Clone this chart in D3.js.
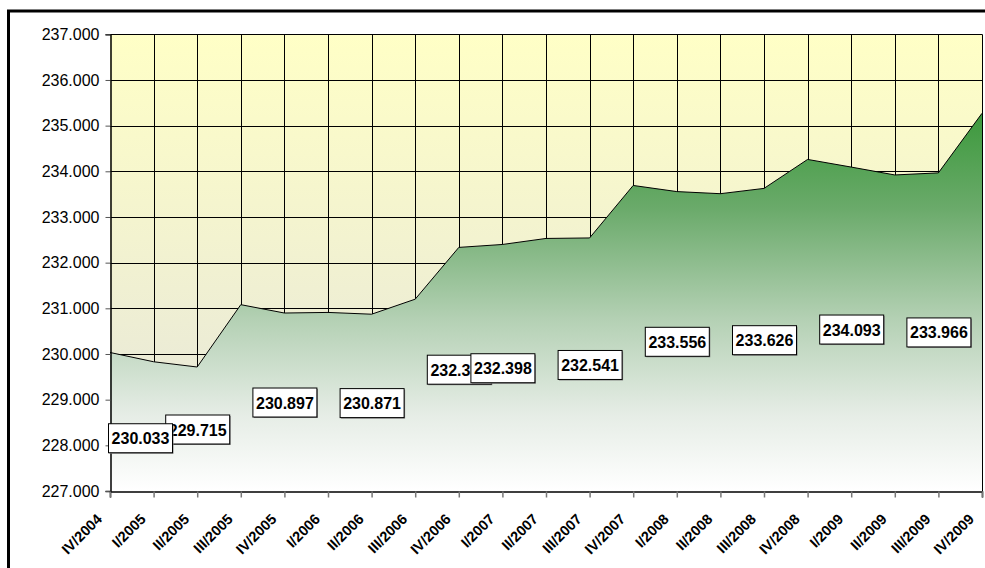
<!DOCTYPE html>
<html>
<head>
<meta charset="utf-8">
<script src="https://cdn.jsdelivr.net/npm/d3@7"></script>
<style>
  body { margin: 0; background: #fff; }
  svg { display: block; }
  svg text { font-family: Arial, "Liberation Sans", sans-serif; }
</style>
</head>
<body>
<div id="viz"></div>
<script>
// quarters and values
var quarters = ['IV/2004', 'I/2005', 'II/2005', 'III/2005', 'IV/2005', 'I/2006', 'II/2006',
  'III/2006', 'IV/2006', 'I/2007', 'II/2007', 'III/2007', 'IV/2007', 'I/2008', 'II/2008',
  'III/2008', 'IV/2008', 'I/2009', 'II/2009', 'III/2009', 'IV/2009'];
var values = [230.033, 229.83, 229.715, 231.08, 230.897, 230.91, 230.871,
  231.2, 232.334, 232.398, 232.53, 232.541, 233.69, 233.556, 233.51,
  233.626, 234.26, 234.093, 233.92, 233.966, 235.27];
// which points carry a value box
var labelled = [0, 2, 4, 6, 8, 9, 11, 13, 15, 17, 19];
var yTicks = [227, 228, 229, 230, 231, 232, 233, 234, 235, 236, 237];

(function () {
  'use strict';

  var width = 985, height = 568;
  var left = 110, right = 982, top = 34.3, bottom = 491;

  var svg = d3.select('#viz')
  .append('svg')
  .attr('width', width)
  .attr('height', height);

  var x = d3.scalePoint().domain(quarters).range([left, right]);
  var y = d3.scaleLinear().domain([227, 237]).range([bottom, top]);
  var fmt = function (v) { return d3.format('.3f')(v); };

  var defs = svg.append('defs');
  var bg = defs.append('linearGradient')
  .attr('id', 'bg')
  .attr('x1', 0).attr('y1', 0).attr('x2', 0).attr('y2', 1);
  bg.append('stop').attr('offset', 0).attr('stop-color', '#ffffc6');
  bg.append('stop').attr('offset', 1).attr('stop-color', '#e4e4dc');

  var green = defs.append('linearGradient')
  .attr('id', 'green')
  .attr('gradientUnits', 'userSpaceOnUse')
  .attr('x1', 0).attr('x2', 0)
  .attr('y1', y(d3.max(values))).attr('y2', y(227));
  [[0, '#3c993c'], [0.25, '#6aaa6a'], [0.55, '#b5d1b5'], [0.8, '#e6ede6'], [1, '#ffffff']]
  .forEach(function (s) {
    green.append('stop').attr('offset', s[0]).attr('stop-color', s[1]);
  });

  // outer chart frame (only left and top fall inside the picture)
  svg.append('rect')
  .attr('x', 8.5).attr('y', 11)
  .attr('width', 1100).attr('height', 700)
  .attr('fill', 'none')
  .attr('stroke', '#000')
  .attr('stroke-width', 3);

  // plot background
  svg.append('rect')
  .attr('x', left).attr('y', top)
  .attr('width', right - left).attr('height', bottom - top)
  .attr('fill', 'url(#bg)');

  // gridlines
  svg.append('g')
  .selectAll('line')
  .data(yTicks.slice(1))
  .enter().append('line')
  .attr('x1', left).attr('x2', right)
  .attr('y1', function (d) { return Math.round(y(d)) + 0.5; })
  .attr('y2', function (d) { return Math.round(y(d)) + 0.5; })
  .attr('stroke', '#000');

  svg.append('g')
  .selectAll('line')
  .data(quarters.slice(1))
  .enter().append('line')
  .attr('x1', function (d) { return Math.round(x(d)) + 0.5; })
  .attr('x2', function (d) { return Math.round(x(d)) + 0.5; })
  .attr('y1', top).attr('y2', bottom)
  .attr('stroke', '#000');

  // area
  var area = d3.area()
  .x(function (d, i) { return x(quarters[i]); })
  .y0(y(227))
  .y1(function (d) { return y(d); });
  var line = d3.line()
  .x(function (d, i) { return x(quarters[i]); })
  .y(function (d) { return y(d); });

  svg.append('path')
  .datum(values)
  .attr('d', area)
  .attr('fill', 'url(#green)');
  svg.append('path')
  .datum(values)
  .attr('d', line)
  .attr('fill', 'none')
  .attr('stroke', '#000')
  .attr('stroke-width', 1);

  // axes
  var yAxis = svg.append('g')
  .attr('transform', 'translate(' + (left + 0.5) + ',0)')
  .call(d3.axisLeft(y).tickValues(yTicks).tickSize(5).tickPadding(6)
    .tickFormat(fmt));
  yAxis.attr('font-family', null);
  yAxis.select('.domain').attr('stroke', '#000').attr('stroke-width', 1.5);
  yAxis.selectAll('.tick line').attr('stroke', '#555');
  yAxis.selectAll('text')
  .attr('font-size', '16px')
  .attr('fill', '#000');

  var xAxis = svg.append('g')
  .attr('transform', 'translate(0,' + (bottom + 0.5) + ')')
  .call(d3.axisBottom(x).tickSize(6).tickFormat(''));
  xAxis.select('.domain').attr('stroke', '#000').attr('stroke-width', 1.5);
  xAxis.selectAll('.tick line').attr('stroke', '#777').attr('stroke-width', 1.5);

  svg.append('g')
  .selectAll('text')
  .data(quarters)
  .enter().append('text')
  .attr('transform', function (d) {
    return 'translate(' + (x(d) - 7) + ',520) rotate(-45)';
  })
  .attr('text-anchor', 'end')
  .attr('font-size', '14.5px')
  .attr('font-weight', 'bold')
  .text(function (d) { return d; });

  // value boxes, placed at the middle of the area like the original
  var bw = 64, bh = 29;
  var boxes = svg.append('g')
  .selectAll('g')
  .data(labelled)
  .enter().append('g')
  .attr('transform', function (i) {
    var cx = x(quarters[i]);
    var cy = y((values[i] + 227) / 2);
    if (cx - bw / 2 < left) { // kept inside the plot, moved down a bit
      cx = left - 2 + bw / 2;
      cy += 16;
    }
    return 'translate(' + (cx - bw / 2) + ',' + (cy - bh / 2) + ')';
  });
  boxes.append('rect')
  .attr('x', 1.5).attr('y', 1.5)
  .attr('width', bw).attr('height', bh)
  .attr('fill', '#808080');
  boxes.append('rect')
  .attr('x', 0.5).attr('y', 0.5)
  .attr('width', bw).attr('height', bh)
  .attr('fill', '#fff')
  .attr('stroke', '#000');
  boxes.append('text')
  .attr('x', bw / 2 + 0.5).attr('y', bh / 2 + 6.5)
  .attr('text-anchor', 'middle')
  .attr('font-size', '16px')
  .attr('font-weight', 'bold')
  .text(function (i) { return fmt(values[i]); });
  // the first box sits on top of its neighbour in the original
  boxes.filter(function (i) { return i === labelled[0]; }).raise();
})();
</script>
</body>
</html>
